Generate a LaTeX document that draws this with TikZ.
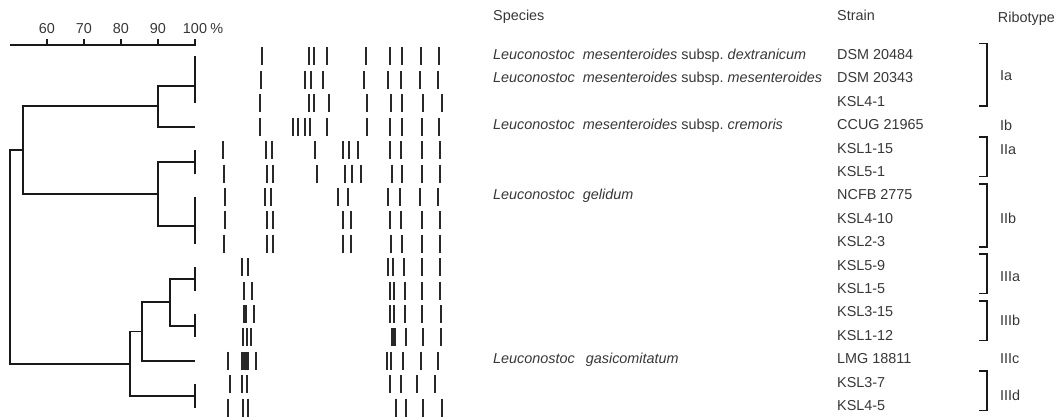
\documentclass[tikz,border=0pt]{standalone}
\usepackage{fontspec}
\setmainfont{Liberation Sans}
\usepackage{tikz}
\usetikzlibrary{positioning,calc}
\definecolor{geltext}{RGB}{55,55,55}
\definecolor{gelband}{RGB}{40,40,40}
\definecolor{treeline}{RGB}{25,25,25}
\newcommand{\genus}{\textit{Leuconostoc}\hspace{8pt}}

\begin{document}
\begin{tikzpicture}[x=1pt,y=-1pt,font=\fontsize{14.4}{17}\selectfont,text=geltext,
  lbl/.style={inner sep=0pt,anchor=base west},
  tree/.style={draw=treeline,line width=1.8pt},
  band/.style={draw=gelband,line width=2.2pt},
  brk/.style={draw=treeline,line width=1.6pt}]
  \useasboundingbox (0,0) rectangle (1057,417);
  % similarity scale
  \draw[tree] (10,45) -- (196,45);
  \foreach \p/\x in {60/47,70/84,80/121,90/158,100/195}{
    \draw[tree] (\x,45) -- (\x,39);
    \node[inner sep=0pt,anchor=base] (ax\p) at (\x,34) {\p};
  }
  \node[lbl] (pct) at ($(ax100.base east)+(3,0)$) {\%};
  % dendrogram
  \foreach \i in {0,...,15}
    \coordinate (L\i) at (195,{56.5+23.4*\i});
  \coordinate (a01) at (195,68.2);
  \coordinate (aIa) at (195,85.75);
  \coordinate (kI) at (158,106.4);
  \coordinate (a45) at (195,161.8);
  \coordinate (a67) at (195,208.6);
  \coordinate (aIIb) at (195,226.2);
  \coordinate (kII) at (158,194);
  \coordinate (kIandII) at (23,150.2);
  \coordinate (a910) at (195,278.8);
  \coordinate (a1112) at (195,325.6);
  \coordinate (kIIIab) at (170,302.2);
  \coordinate (kIIIabc) at (142,331.5);
  \coordinate (a1415) at (195,395.8);
  \coordinate (kIII) at (130,363.6);
  \coordinate (root) at (10,256.9);
  \foreach \a/\k/\b in {L0/a01/L1,a01/aIa/L2,aIa/kI/L3,L4/a45/L5,L6/a67/L7,a67/aIIb/L8,
      a45/kII/aIIb,kI/kIandII/kII,L9/a910/L10,L11/a1112/L12,a910/kIIIab/a1112,
      kIIIab/kIIIabc/L13,L14/a1415/L15,kIIIabc/kIII/a1415,kIandII/root/kIII}
    \draw[tree] (\a) -| (\k) |- (\b);
  % band patterns
  \foreach \i/\xs in {0/{262,309,314,327,366,390,402,421,439},
      1/{261,305,311,323,364,388,401,420,438},
      2/{260,309,314,329,367,391,402,423,442},
      3/{260,293,298,305,310,327,367,390,402,422,439},
      4/{223,266,272,315,343,349,358,390,401,422,440},
      5/{224,267,273,317,345,352,361,392,402,422,440},
      6/{225,265,271,338,348,388,400,420,438},
      7/{225,267,273,343,351,390,401,422,440},
      8/{224,267,273,343,351,391,402,422,440},
      9/{242,248,388,393,404,422,440},
      10/{244,252,390,394,405,422,440},
      11/{254,390,394,405,422,441},
      12/{243,247,251,406,423,441},
      13/{228,256,387,391,403,421,438},
      14/{230,242,247,390,401,417,435},
      15/{228,243,248,396,406,423,442}}{
    \pgfmathsetmacro\yb{56.5+23.4*\i}
    \foreach \x in \xs
      \draw[band] (\x,\yb-9) -- (\x,\yb+9);
  }
  \fill[gelband] (243,304.9) rectangle (247,322.9);
  \fill[gelband] (391,328.3) rectangle (395.5,346.3);
  \fill[gelband] (241,351.7) rectangle (249,369.7);
  % headers
  \node[lbl] (hSpecies) at (493,21) {Species};
  \node[lbl] (hStrain) at (837,21) {Strain};
  \node[inner sep=0pt,anchor=base east] (hRibotype) at (1055,23) {Ribotype};
  % species
  \foreach \i/\sp in {0/{\genus\textit{mesenteroides} subsp.\ \textit{dextranicum}},
      1/{\genus\textit{mesenteroides} subsp.\ \textit{mesenteroides}},
      3/{\genus\textit{mesenteroides} subsp.\ \textit{cremoris}},
      6/{\genus\textit{gelidum}},
      13/{\textit{Leuconostoc}\hspace{11pt}\textit{gasicomitatum}}}
    \node[lbl] (sp\i) at (493,{59.5+23.4*\i}) {\sp};
  % strains
  \foreach \s [count=\i from 0] in {DSM 20484,DSM 20343,KSL4-1,CCUG 21965,KSL1-15,KSL5-1,
      NCFB 2775,KSL4-10,KSL2-3,KSL5-9,KSL1-5,KSL3-15,KSL1-12,LMG 18811,KSL3-7,KSL4-5}
    \node[lbl] (st\i) at (837,{59.5+23.4*\i}) {\s};
  % ribotypes
  \foreach \a/\b/\t/\yc in {0/2/Ia/76,4/5/IIa/150,6/8/IIb/218,9/10/IIIa/277,
      11/12/IIIb/320,14/15/IIId/395}{
    \draw[brk] (979,{43.5+23.4*\a}) -| (987,{59.5+23.4*\b}) -- (979,{59.5+23.4*\b});
    \node[lbl,anchor=west] (rt\t) at (1000,\yc) {\t};
  }
  \node[lbl,anchor=west] (rtIb) at (1000,125) {Ib};
  \node[lbl,anchor=west] (rtIIIc) at (1000,359) {IIIc};
\end{tikzpicture}
\end{document}
